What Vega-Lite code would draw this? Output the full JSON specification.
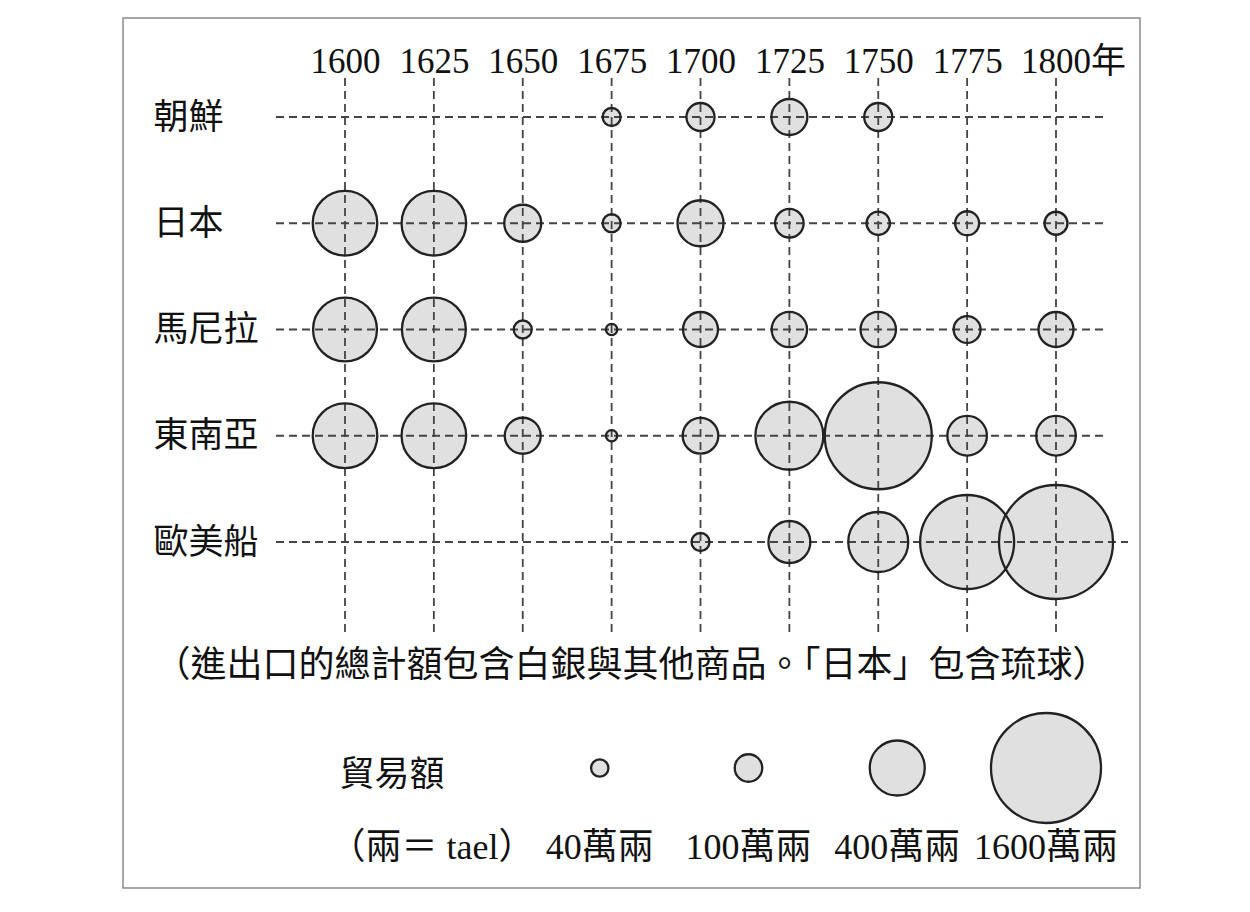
{
  "$schema": "https://vega.github.io/schema/vega-lite/v6.json",
  "width": 1017,
  "height": 870,
  "autosize": {"type": "none"},
  "padding": {"left": 123, "top": 18, "right": 110, "bottom": 24},
  "background": "white",
  "title": {
    "text": "（進出口的總計額包含白銀與其他商品。「日本」包含琉球）",
    "orient": "bottom",
    "anchor": "middle",
    "frame": "group",
    "offset": -239,
    "font": "Noto Sans CJK TC",
    "fontSize": 36,
    "fontWeight": "normal",
    "color": "#111"
  },
  "config": {
    "view": {"stroke": "#8a8a8a", "strokeWidth": 1.5},
    "font": "Noto Sans CJK TC"
  },
  "datasets": {
    "trade": [
      {"region": "朝鮮", "year": 1675, "value": 43},
      {"region": "朝鮮", "year": 1700, "value": 104},
      {"region": "朝鮮", "year": 1725, "value": 171},
      {"region": "朝鮮", "year": 1750, "value": 104},
      {"region": "日本", "year": 1600, "value": 552},
      {"region": "日本", "year": 1625, "value": 552},
      {"region": "日本", "year": 1650, "value": 181},
      {"region": "日本", "year": 1675, "value": 43},
      {"region": "日本", "year": 1700, "value": 280},
      {"region": "日本", "year": 1725, "value": 108},
      {"region": "日本", "year": 1750, "value": 72},
      {"region": "日本", "year": 1775, "value": 76},
      {"region": "日本", "year": 1800, "value": 70},
      {"region": "馬尼拉", "year": 1600, "value": 540},
      {"region": "馬尼拉", "year": 1625, "value": 540},
      {"region": "馬尼拉", "year": 1650, "value": 43},
      {"region": "馬尼拉", "year": 1675, "value": 17},
      {"region": "馬尼拉", "year": 1700, "value": 162},
      {"region": "馬尼拉", "year": 1725, "value": 166},
      {"region": "馬尼拉", "year": 1750, "value": 166},
      {"region": "馬尼拉", "year": 1775, "value": 96},
      {"region": "馬尼拉", "year": 1800, "value": 162},
      {"region": "東南亞", "year": 1600, "value": 552},
      {"region": "東南亞", "year": 1625, "value": 552},
      {"region": "東南亞", "year": 1650, "value": 171},
      {"region": "東南亞", "year": 1675, "value": 17},
      {"region": "東南亞", "year": 1700, "value": 168},
      {"region": "東南亞", "year": 1725, "value": 611},
      {"region": "東南亞", "year": 1750, "value": 1514},
      {"region": "東南亞", "year": 1775, "value": 207},
      {"region": "東南亞", "year": 1800, "value": 207},
      {"region": "歐美船", "year": 1700, "value": 43},
      {"region": "歐美船", "year": 1725, "value": 233},
      {"region": "歐美船", "year": 1750, "value": 476},
      {"region": "歐美船", "year": 1775, "value": 1168},
      {"region": "歐美船", "year": 1800, "value": 1719}
    ],
    "years": [
      {"year": 1600}, {"year": 1625}, {"year": 1650}, {"year": 1675}, {"year": 1700},
      {"year": 1725}, {"year": 1750}, {"year": 1775}, {"year": 1800}
    ],
    "rows": [
      {"region": "朝鮮"}, {"region": "日本"}, {"region": "馬尼拉"}, {"region": "東南亞"}, {"region": "歐美船"}
    ],
    "legend": [
      {"k": "40", "v": 40, "label": "40萬兩"},
      {"k": "100", "v": 100, "label": "100萬兩"},
      {"k": "400", "v": 400, "label": "400萬兩"},
      {"k": "1600", "v": 1600, "label": "1600萬兩"}
    ]
  },
  "layer": [
    {
      "layer": [
        {
          "data": {"name": "trade"},
          "mark": {"type": "circle", "fill": "#e0e0e0", "opacity": 1, "strokeWidth": 0},
          "encoding": {
            "x": {
              "field": "year",
              "type": "ordinal",
              "scale": {
                "type": "point",
                "domain": [1600, 1625, 1650, 1675, 1700, 1725, 1750, 1775, 1800],
                "padding": 0,
                "range": [222, 933]
              },
              "axis": {
                "orient": "top",
                "title": null,
                "domain": false,
                "ticks": false,
                "tickSize": 0,
                "grid": false,
                "offset": -54,
                "labelPadding": 0,
                "labelAngle": 0,
                "labelBaseline": "alphabetic",
                "labelFont": "Liberation Serif, Noto Sans CJK TC",
                "labelFontSize": 35,
                "labelColor": "#111",
                "labelOverlap": false,
                "labelExpr": "datum.value == 1800 ? '1800年' : datum.label",
                "labelOffset": {"condition": {"test": "datum.value == 1800", "value": 17}, "value": 0}
              }
            },
            "y": {
              "field": "region",
              "type": "nominal",
              "scale": {
                "type": "point",
                "domain": ["朝鮮", "日本", "馬尼拉", "東南亞", "歐美船"],
                "padding": 0,
                "range": [99, 524]
              },
              "axis": {
                "orient": "left",
                "title": null,
                "domain": false,
                "ticks": false,
                "tickSize": 0,
                "grid": false,
                "offset": -30,
                "labelPadding": 0,
                "labelAlign": "left",
                "labelBaseline": "middle",
                "labelFont": "Noto Sans CJK TC",
                "labelFontSize": 35,
                "labelColor": "#111"
              }
            },
            "size": {
              "field": "value",
              "type": "quantitative",
              "scale": {"type": "linear", "domain": [0, 1600], "range": [0, 12100]},
              "legend": null
            }
          }
        },
        {
          "data": {"name": "years"},
          "mark": {"type": "rule", "color": "#444", "strokeWidth": 1.8, "strokeDash": [8, 5], "yOffset": -39, "y2Offset": 90},
          "encoding": {
            "x": {"field": "year", "type": "ordinal"},
            "y": {"datum": "朝鮮", "type": "nominal"},
            "y2": {"datum": "歐美船"}
          }
        },
        {
          "data": {"name": "rows"},
          "transform": [{"filter": "datum.region != '歐美船'"}],
          "mark": {"type": "rule", "color": "#444", "strokeWidth": 1.8, "strokeDash": [8, 5], "xOffset": -69, "x2Offset": 48},
          "encoding": {
            "y": {"field": "region", "type": "nominal"},
            "x": {"datum": 1600, "type": "ordinal"},
            "x2": {"datum": 1800}
          }
        },
        {
          "data": {"name": "rows"},
          "transform": [{"filter": "datum.region == '歐美船'"}],
          "mark": {"type": "rule", "color": "#444", "strokeWidth": 1.8, "strokeDash": [8, 5], "xOffset": -69, "x2Offset": 72},
          "encoding": {
            "y": {"field": "region", "type": "nominal"},
            "x": {"datum": 1600, "type": "ordinal"},
            "x2": {"datum": 1800}
          }
        },
        {
          "data": {"name": "trade"},
          "mark": {"type": "circle", "filled": false, "stroke": "#222", "strokeWidth": 2.3, "opacity": 1},
          "encoding": {
            "x": {"field": "year", "type": "ordinal"},
            "y": {"field": "region", "type": "nominal"},
            "size": {"field": "value", "type": "quantitative", "legend": null}
          }
        }
      ]
    },
    {
      "layer": [
        {
          "data": {"name": "legend"},
          "mark": {"type": "circle", "fill": "#e0e0e0", "stroke": "#222", "strokeWidth": 2.3, "opacity": 1},
          "encoding": {
            "x": {
              "field": "k",
              "type": "nominal",
              "scale": {"type": "point", "domain": ["tael", "40", "100", "400", "1600"], "padding": 0, "range": [328, 923]},
              "axis": null
            },
            "y": {
              "datum": "sym",
              "type": "nominal",
              "scale": {"type": "point", "domain": ["sym", "lbl"], "padding": 0, "range": [750, 830]},
              "axis": null
            },
            "size": {"field": "v", "type": "quantitative", "legend": null}
          }
        },
        {
          "data": {"name": "legend"},
          "mark": {"type": "text", "font": "Liberation Serif, Noto Sans CJK TC", "fontSize": 36, "color": "#111", "align": "center", "baseline": "middle"},
          "encoding": {
            "x": {"field": "k", "type": "nominal"},
            "y": {"datum": "lbl", "type": "nominal"},
            "text": {"field": "label"}
          }
        },
        {
          "data": {"values": [{"k": "tael", "t": "貿易額"}]},
          "mark": {"type": "text", "font": "Noto Sans CJK TC", "fontSize": 35, "color": "#111", "align": "center", "baseline": "middle", "dx": -59, "dy": 7},
          "encoding": {
            "x": {"field": "k", "type": "nominal"},
            "y": {"datum": "sym", "type": "nominal"},
            "text": {"field": "t"}
          }
        },
        {
          "data": {"values": [{"k": "tael", "t": "（兩＝ tael）"}]},
          "mark": {"type": "text", "font": "Liberation Serif, Noto Sans CJK TC", "fontSize": 36, "color": "#111", "align": "center", "baseline": "middle", "dx": -19},
          "encoding": {
            "x": {"field": "k", "type": "nominal"},
            "y": {"datum": "lbl", "type": "nominal"},
            "text": {"field": "t"}
          }
        }
      ]
    }
  ],
  "resolve": {
    "scale": {"x": "independent", "y": "independent"},
    "axis": {"x": "independent", "y": "independent"}
  }
}
